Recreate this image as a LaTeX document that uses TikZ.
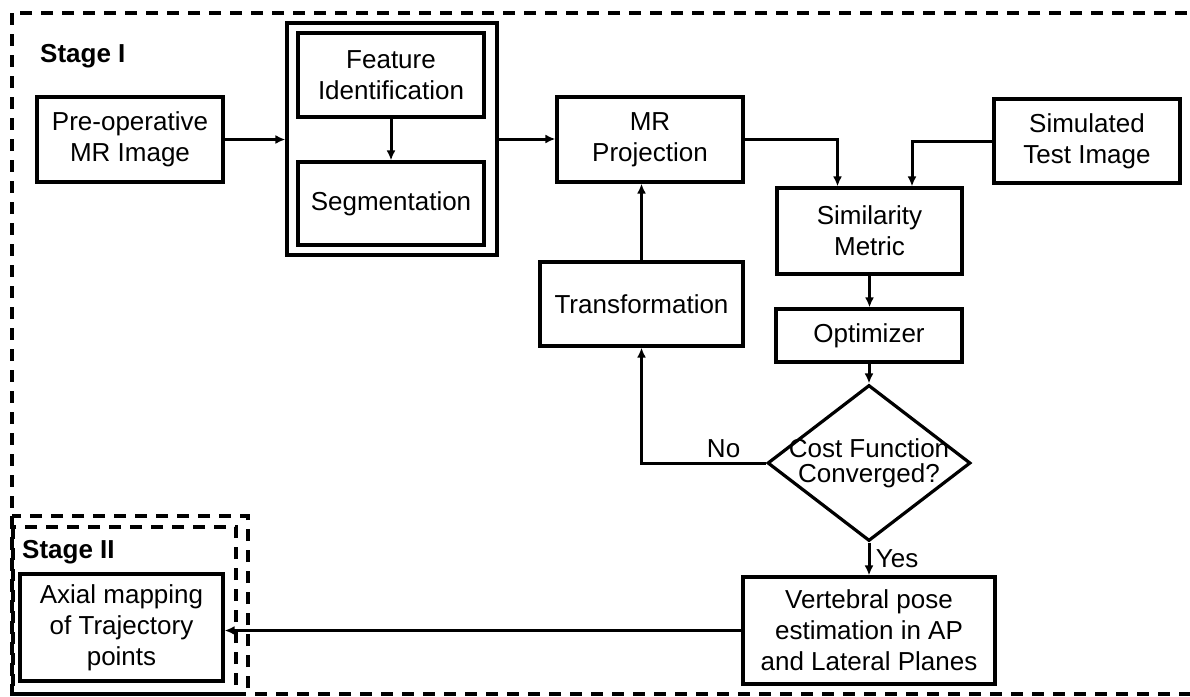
\documentclass[tikz,border=0pt]{standalone}
\usepackage{fontspec}
\setmainfont{Liberation Sans}
\usetikzlibrary{shapes.geometric,arrows.meta}

\begin{document}
\begin{tikzpicture}[x=1pt,y=-1pt,
  font=\fontsize{26}{31}\selectfont,
  box/.style={draw,line width=3.2pt,inner sep=0pt,align=center,minimum width=186pt,minimum height=84pt},
  dashbox/.style={line width=3.4pt,dash pattern=on 12pt off 9pt},
  stagelabel/.style={anchor=west,inner sep=0pt,font=\fontsize{26}{31}\selectfont\bfseries},
  arr/.style={line width=3pt,-{Latex[length=10pt,width=9pt]}}]
\clip (0,0) rectangle (1190,696);
\draw[dashbox] (12,13) rectangle (1210,694);
\draw[dashbox] (12,516) rectangle (248,694);
\draw[dashbox] (13,527) rectangle (236,694);
\node[stagelabel] (stage1) at (40,56) {Stage I};
\node[stagelabel] (stage2) at (22,552) {Stage II};
\node[box,minimum height=85pt] (pre) at (130,139.5) {Pre-operative\\MR Image};
\node[draw,line width=3.2pt,minimum width=210pt,minimum height=232pt] (group) at (392,139) {};
\node[box] (feat) at (391,75) {Feature\\Identification};
\node[box,minimum height=83pt] (seg) at (391,203.5) {Segmentation};
\node[box,minimum height=85pt] (mrp) at (650,139.5) {MR\\Projection};
\node[box] (sim) at (1087,141) {Simulated\\Test Image};
\node[box,minimum width=185pt,minimum height=86pt] (simm) at (869.5,231) {Similarity\\Metric};
\node[box,minimum height=53pt] (opt) at (869,335.5) {Optimizer};
\node[box,minimum width=203pt] (trans) at (641.5,304) {Transformation};
\node[draw,diamond,line width=3.2pt,inner sep=0pt,minimum width=203pt,minimum height=156pt] (conv) at (869,463) {};
\node[align=center,font=\fontsize{26}{25}\selectfont] (convtext) at (conv) {Cost Function\\Converged?};
\node[box,minimum width=252pt,minimum height=107pt] (vert) at (869,630.5) {Vertebral pose\\estimation in AP\\and Lateral Planes};
\node[box,minimum width=203pt,minimum height=107pt] (axial) at (121.5,627.5) {Axial mapping\\of Trajectory\\points};
\draw[arr] (pre.east) -- (pre.east -| group.west);
\draw[arr] (feat) -- (seg);
\draw[arr] (group.east) -- (group.east -| mrp.west);
\draw[arr] (mrp.east) -| ([xshift=-32pt]simm.north);
\draw[arr] (sim.west) -| ([xshift=42.5pt]simm.north);
\draw[arr] (simm.south) -- (simm.south |- opt.north);
\draw[arr] (opt) -- (conv);
\draw[arr] (conv.west) -| node[above,pos=0.17] {No} (trans.south);
\draw[arr] (trans.north) -- (trans.north |- mrp.south);
\draw[arr] (conv.south) -- node[right,xshift=2pt] {Yes} (vert.north);
\draw[arr] (vert.west) -- (vert.west -| axial.east);
\end{tikzpicture}
\end{document}
